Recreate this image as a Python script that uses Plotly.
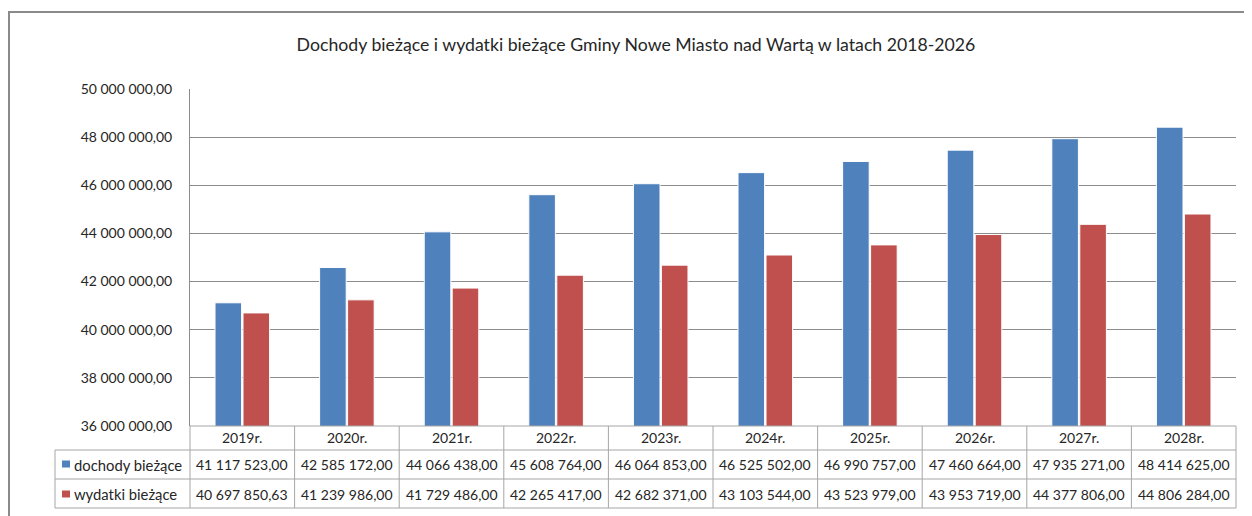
import plotly.graph_objects as go

# ---- data ----
years = ["2019r.", "2020r.", "2021r.", "2022r.", "2023r.", "2024r.", "2025r.", "2026r.", "2027r.", "2028r."]
dochody = [41117523.00, 42585172.00, 44066438.00, 45608764.00, 46064853.00,
           46525502.00, 46990757.00, 47460664.00, 47935271.00, 48414625.00]
wydatki = [40697850.63, 41239986.00, 41729486.00, 42265417.00, 42682371.00,
           43103544.00, 43523979.00, 43953719.00, 44377806.00, 44806284.00]
series_names = ["dochody bieżące", "wydatki bieżące"]
y_ticks = [36e6, 38e6, 40e6, 42e6, 44e6, 46e6, 48e6, 50e6]
title = "Dochody bieżące i wydatki bieżące Gminy Nowe Miasto nad Wartą w latach 2018-2026"


def pl(v):
    return f"{v:,.2f}".replace(",", " ").replace(".", ",")


# ---- layout geometry (page pixels; page body has an 8px margin) ----
OFF = 8
W, H = 1252 - OFF, 516 - OFF
L, R, T, B = 190, 1236, 89, 426
pw, ph = R - L, B - T


def px_x(x):
    return (x - L) / pw


def px_y(y):
    return (B - y) / ph


FONT = "Lato"
TXT = "#262626"
BLUE = "#4F81BD"
RED = "#C0504D"
GRID = "#8C8C8C"
TBL = "#A6A6A6"
FS = 14

fig = go.Figure()
fig.add_bar(x=years, y=dochody, name=series_names[0], marker_color=BLUE,
            marker_line_color="white", marker_line_width=1)
fig.add_bar(x=years, y=wydatki, name=series_names[1], marker_color=RED,
            marker_line_color="white", marker_line_width=1)

shapes = []
n = len(years)
row_lines = [426, 450, 479, 508]
shapes.append(dict(type="line", xref="paper", yref="paper", x0=0, x1=1,
                   y0=px_y(426), y1=px_y(426), line=dict(color=TBL, width=1)))
for yy in row_lines[1:]:
    shapes.append(dict(type="line", xref="paper", yref="paper", x0=px_x(55), x1=1,
                       y0=px_y(yy), y1=px_y(yy), line=dict(color=TBL, width=1)))
for k in range(n + 1):
    shapes.append(dict(type="line", xref="paper", yref="paper", x0=k / n, x1=k / n,
                       y0=px_y(426), y1=px_y(508), line=dict(color=TBL, width=1)))
shapes.append(dict(type="line", xref="paper", yref="paper", x0=px_x(55), x1=px_x(55),
                   y0=px_y(450), y1=px_y(508), line=dict(color=TBL, width=1)))
for yy, col in [(464, BLUE), (494, RED)]:
    shapes.append(dict(type="rect", xref="paper", yref="paper",
                       x0=px_x(62), x1=px_x(70), y0=px_y(yy - 3.5), y1=px_y(yy + 3.5),
                       fillcolor=col, line=dict(width=0)))
shapes.append(dict(type="rect", xref="paper", yref="paper",
                   x0=px_x(9), x1=px_x(1262), y0=px_y(12), y1=px_y(530),
                   line=dict(color="#8A8A8A", width=2)))

annotations = []
tf = dict(family=FONT, size=FS, color=TXT)
for i, yr in enumerate(years):
    annotations.append(dict(x=yr, xref="x", y=px_y(438), yref="paper", text=yr,
                            xanchor="center", yanchor="middle", showarrow=False, font=tf))
    annotations.append(dict(x=yr, xref="x", y=px_y(465), yref="paper", text=pl(dochody[i]),
                            xanchor="center", yanchor="middle", showarrow=False, font=tf))
    annotations.append(dict(x=yr, xref="x", y=px_y(494), yref="paper", text=pl(wydatki[i]),
                            xanchor="center", yanchor="middle", showarrow=False, font=tf))
for yy, name in [(465, series_names[0]), (494, series_names[1])]:
    annotations.append(dict(x=px_x(72), xref="paper", xanchor="left", y=px_y(yy), yref="paper",
                            yanchor="middle", text=name, showarrow=False,
                            font=dict(family=FONT, size=14.8, color=TXT)))

fig.update_layout(
    width=W, height=H,
    margin=dict(l=L - OFF, r=W - (R - OFF), t=T - OFF, b=H - (B - OFF), pad=0),
    paper_bgcolor="white", plot_bgcolor="white",
    showlegend=False,
    barmode="group", bargap=0.465, bargroupgap=0.05,
    title=dict(text=title, x=(636 - OFF) / W, xanchor="center", y=1 - (45 - OFF) / H,
               yanchor="middle", font=dict(family=FONT, size=17.7, color=TXT)),
    xaxis=dict(showticklabels=False, showgrid=False, showline=False, ticks="",
               range=[-0.5, n - 0.5]),
    yaxis=dict(range=[36e6, 50e6], tickvals=y_ticks, ticktext=[pl(v) for v in y_ticks],
               showgrid=True, gridcolor=GRID, gridwidth=1, zeroline=False,
               showline=True, linecolor=GRID, linewidth=1, ticks="",
               ticklabelstandoff=14,
               tickfont=dict(family=FONT, size=FS, color=TXT)),
    shapes=shapes, annotations=annotations,
    font=dict(family=FONT, color=TXT),
)

fig.write_html("out.html")
